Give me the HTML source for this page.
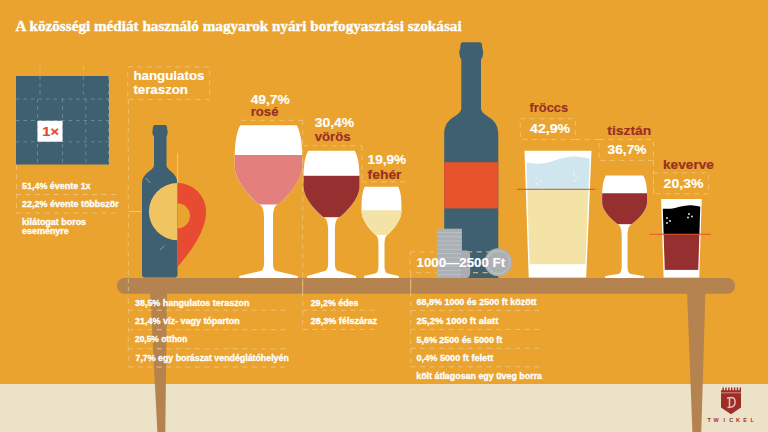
<!DOCTYPE html><html><head><meta charset="utf-8"><style>html,body{margin:0;padding:0;width:768px;height:432px;overflow:hidden;background:#E9A32E}svg{display:block}</style></head><body><svg width="768" height="432" viewBox="0 0 768 432"><rect width="768" height="432" fill="#E9A32E"/><rect y="384" width="768" height="48" fill="#ECE2C7"/><text x="15.6" y="30.5" font-family="Liberation Serif" font-weight="bold" font-size="15" fill="#fff" stroke="#fff" stroke-width="0.35" textLength="446" lengthAdjust="spacingAndGlyphs">A közösségi médiát használó magyarok nyári borfogyasztási szokásai</text><rect x="16" y="76" width="93" height="88.5" fill="#3F6071"/><line x1="16" y1="99" x2="109" y2="99" stroke="#6A8896" stroke-width="1" stroke-dasharray="3.5 4" fill="none"/><line x1="16" y1="120.5" x2="109" y2="120.5" stroke="#6A8896" stroke-width="1" stroke-dasharray="3.5 4" fill="none"/><line x1="16" y1="141.8" x2="109" y2="141.8" stroke="#6A8896" stroke-width="1" stroke-dasharray="3.5 4" fill="none"/><line x1="40" y1="76" x2="40" y2="99" stroke="#6A8896" stroke-width="1" stroke-dasharray="3.5 4" fill="none"/><line x1="83.3" y1="76" x2="83.3" y2="99" stroke="#6A8896" stroke-width="1" stroke-dasharray="3.5 4" fill="none"/><line x1="37.5" y1="99" x2="37.5" y2="164.5" stroke="#6A8896" stroke-width="1" stroke-dasharray="3.5 4" fill="none"/><line x1="62.5" y1="99" x2="62.5" y2="164.5" stroke="#6A8896" stroke-width="1" stroke-dasharray="3.5 4" fill="none"/><line x1="85.8" y1="99" x2="85.8" y2="164.5" stroke="#6A8896" stroke-width="1" stroke-dasharray="3.5 4" fill="none"/><line x1="108.5" y1="76" x2="108.5" y2="164.5" stroke="#6A8896" stroke-width="1" stroke-dasharray="3.5 4" fill="none"/><rect x="37.5" y="120.8" width="25" height="20.9" fill="#fff"/><text x="42.3" y="135.8" font-family="Liberation Sans" font-weight="bold" font-size="12" fill="#E2492C" stroke="#E2492C" stroke-width="0.15" textLength="16.7" lengthAdjust="spacingAndGlyphs">1×</text><line x1="40" y1="65" x2="40" y2="71" stroke="#EDBB6A" stroke-width="0.8"/><line x1="83.3" y1="65" x2="83.3" y2="71" stroke="#EDBB6A" stroke-width="0.8"/><line x1="16.4" y1="165" x2="16.4" y2="213" stroke="#EFC173" stroke-width="1" stroke-dasharray="5 4.5" fill="none"/><line x1="16" y1="194.5" x2="118.7" y2="194.5" stroke="#EFC173" stroke-width="1" stroke-dasharray="5 4.5" fill="none"/><line x1="16" y1="213" x2="118.7" y2="213" stroke="#EFC173" stroke-width="1" stroke-dasharray="5 4.5" fill="none"/><text x="22" y="188.6" font-family="Liberation Sans" font-weight="bold" font-size="8.8" fill="#fff" stroke="#fff" stroke-width="0.3" textLength="68.6" lengthAdjust="spacingAndGlyphs">51,4% évente 1x</text><text x="22" y="207.1" font-family="Liberation Sans" font-weight="bold" font-size="8.8" fill="#fff" stroke="#fff" stroke-width="0.3" textLength="96.8" lengthAdjust="spacingAndGlyphs">22,2% évente többször</text><text x="22" y="225.3" font-family="Liberation Sans" font-weight="bold" font-size="8.8" fill="#fff" stroke="#fff" stroke-width="0.3" textLength="64.1" lengthAdjust="spacingAndGlyphs">kilátogat boros</text><text x="22" y="234" font-family="Liberation Sans" font-weight="bold" font-size="8.8" fill="#fff" stroke="#fff" stroke-width="0.3" textLength="46.8" lengthAdjust="spacingAndGlyphs">eseményre</text><rect x="127.75" y="66.9" width="81.85" height="32.5" stroke="#EFC173" stroke-width="1" stroke-dasharray="5 4.5" fill="none"/><text x="133.4" y="79.75" font-family="Liberation Sans" font-weight="bold" font-size="13" fill="#fff" stroke="#fff" stroke-width="0.15" textLength="71.1" lengthAdjust="spacingAndGlyphs">hangulatos</text><text x="133.4" y="94" font-family="Liberation Sans" font-weight="bold" font-size="13" fill="#fff" stroke="#fff" stroke-width="0.15" textLength="54.6" lengthAdjust="spacingAndGlyphs">teraszon</text><line x1="128.3" y1="99.4" x2="128.3" y2="367" stroke="#EFC173" stroke-width="1" stroke-dasharray="5 4.5" fill="none"/><path d="M150,290 L167,290 L165.3,432 L157.4,432 Z" fill="#B5834F"/><path d="M687,290 L705.5,290 L701.25,432 L692.4,432 Z" fill="#B5834F"/><path d="M155,125 L165,125 Q166.8,125 167,127 L167.2,129.5 Q167.8,131 167.6,133 Q167.4,135.5 166.5,136 L154,136 Q152.6,135.5 152.4,133 Q152.2,131 152.8,129.5 L153,127 Q153.2,125 155,125 Z" fill="#3F6071"/><path d="M154,132 L166.5,132 L166.5,165 C166.5,171 177.5,172 177.5,184 L177.5,274.5 Q177.5,277.5 174.5,277.5 L145,277.5 Q142,277.5 142,274.5 L142,184 C142,172 154,171 154,165 Z" fill="#3F6071"/><line x1="145.5" y1="178" x2="150.5" y2="183" stroke="#8FA9B3" stroke-width="0.9"/><line x1="160" y1="250" x2="164.5" y2="245.5" stroke="#8FA9B3" stroke-width="0.9"/><line x1="128.5" y1="211.5" x2="141" y2="211.5" stroke="#F2C87F" stroke-width="1"/><path d="M177.5,183 A28.6,28.6 0 0 0 177.5,240.2 Z" fill="#F1C462"/><path d="M177.5,183 A28.6,28.6 0 0 1 206.1,211.7 C206.1,230 192,250 177.5,267 Z" fill="#E74B31"/><path d="M177.5,203.3 A12.5,12.5 0 0 1 177.5,228.3 Z" fill="#E9A32E"/><line x1="177.6" y1="153" x2="177.6" y2="183" stroke="#F2C87F" stroke-width="1"/><path d="M463,42.3 L479.5,42.3 Q481.8,42.3 482,45 L482.3,48.5 Q483.3,50 483.2,53 Q483,57 481,59.5 L461.3,59.5 Q459.5,57 459.3,53 Q459.2,50 460.2,48.5 L460.5,45 Q460.7,42.3 463,42.3 Z" fill="#3F6071"/><path d="M461.3,55 L481,55 L481,108 C481,117 498.3,116 498.3,134 L498.3,278 L444.2,278 L444.2,134 C444.2,116 461.3,117 461.3,108 Z" fill="#3F6071"/><rect x="444.2" y="162.2" width="54.1" height="46.2" fill="#E8522A"/><rect x="410.2" y="251.9" width="94.80000000000001" height="20.799999999999983" stroke="#EFC173" stroke-width="1" stroke-dasharray="5 4.5" fill="none"/><rect x="436.9" y="228.7" width="25" height="49.3" fill="#AAB0B5"/><line x1="436.9" y1="232.6" x2="461.9" y2="232.6" stroke="#C0C4C8" stroke-width="0.8"/><line x1="436.9" y1="236.8" x2="461.9" y2="236.8" stroke="#C0C4C8" stroke-width="0.8"/><line x1="436.9" y1="241.0" x2="461.9" y2="241.0" stroke="#C0C4C8" stroke-width="0.8"/><line x1="436.9" y1="245.2" x2="461.9" y2="245.2" stroke="#C0C4C8" stroke-width="0.8"/><line x1="436.9" y1="249.4" x2="461.9" y2="249.4" stroke="#C0C4C8" stroke-width="0.8"/><line x1="436.9" y1="253.6" x2="461.9" y2="253.6" stroke="#C0C4C8" stroke-width="0.8"/><line x1="436.9" y1="257.8" x2="461.9" y2="257.8" stroke="#C0C4C8" stroke-width="0.8"/><line x1="436.9" y1="262.0" x2="461.9" y2="262.0" stroke="#C0C4C8" stroke-width="0.8"/><line x1="436.9" y1="266.2" x2="461.9" y2="266.2" stroke="#C0C4C8" stroke-width="0.8"/><line x1="436.9" y1="270.4" x2="461.9" y2="270.4" stroke="#C0C4C8" stroke-width="0.8"/><line x1="436.9" y1="274.6" x2="461.9" y2="274.6" stroke="#C0C4C8" stroke-width="0.8"/><line x1="436.9" y1="278.8" x2="461.9" y2="278.8" stroke="#C0C4C8" stroke-width="0.8"/><path d="M462,250.5 L466,250.5 Q470.2,250.5 470.2,256 L470.2,272 Q470.2,278 466,278 L462,278 Z" fill="#A9ADB1"/><circle cx="498.4" cy="262.3" r="14" fill="#ADB0B3"/><circle cx="498.4" cy="262.3" r="11.5" fill="none" stroke="#C3C5C6" stroke-width="1"/><text x="416.6" y="267.1" font-family="Liberation Sans" font-weight="bold" font-size="13" fill="#fff" stroke="#fff" stroke-width="0.15" textLength="88.5" lengthAdjust="spacingAndGlyphs">1000—2500 Ft</text><path d="M240.2,125.2 L296.8,125.2 C301.75,135.4 302.3,145.6 302.3,166 C302.3,185 278.0,204.5 278.0,204.5 C274.25,205.5 273.0,210.8 273.0,218.5 L273.0,263.5 C273.0,268 274.5,271 276.5,271 L297.7,276 L297.7,278 L239.3,278 L239.3,276 L260.5,271 C262.5,271 264.0,268 264.0,263.5 L264.0,218.5 C264.0,210.8 262.75,205.5 259.0,204.5 C259.0,204.5 234.7,185 234.7,166 C234.7,145.6 235.25,135.4 240.2,125.2 Z" fill="#fff"/><clipPath id="c1"><path d="M240.2,125.2 L296.8,125.2 C301.75,135.4 302.3,145.6 302.3,166 C302.3,185 278.0,204.5 278.0,204.5 L259.0,204.5 C259.0,204.5 234.7,185 234.7,166 C234.7,145.6 235.25,135.4 240.2,125.2 Z"/></clipPath><rect x="232.7" y="155" width="71.6" height="50.0" fill="#E3807D" clip-path="url(#c1)"/><path d="M308.15,150.8 L354.85,150.8 C359.125,159.60000000000002 359.6,168.4 359.6,186 C359.6,201.65 339.5,217.3 339.5,217.3 C336.04999999999995,218.3 334.9,223.60000000000002 334.9,231.3 L334.9,263.5 C334.9,268 336.4,271 338.4,271 L356.0,276 L356.0,278 L307.0,278 L307.0,276 L324.6,271 C326.6,271 328.1,268 328.1,263.5 L328.1,231.3 C328.1,223.60000000000002 326.95000000000005,218.3 323.5,217.3 C323.5,217.3 303.4,201.65 303.4,186 C303.4,168.4 303.875,159.60000000000002 308.15,150.8 Z" fill="#fff"/><clipPath id="c2"><path d="M308.15,150.8 L354.85,150.8 C359.125,159.60000000000002 359.6,168.4 359.6,186 C359.6,201.65 339.5,217.3 339.5,217.3 L323.5,217.3 C323.5,217.3 303.4,201.65 303.4,186 C303.4,168.4 303.875,159.60000000000002 308.15,150.8 Z"/></clipPath><rect x="301.4" y="175.8" width="60.2" height="42.0" fill="#963030" clip-path="url(#c2)"/><path d="M364.75,186.7 L398.25,186.7 C401.13,192.77499999999998 401.45,198.85 401.45,211 C401.45,222.95 387.5,234.9 387.5,234.9 C385.25,235.9 384.5,239.85 384.5,245.9 L384.5,266.0 C384.5,270.5 386.0,273.5 388.0,273.5 L398.85,276 L398.85,278 L364.15,278 L364.15,276 L375.0,273.5 C377.0,273.5 378.5,270.5 378.5,266.0 L378.5,245.9 C378.5,239.85 377.75,235.9 375.5,234.9 C375.5,234.9 361.55,222.95 361.55,211 C361.55,198.85 361.87,192.77499999999998 364.75,186.7 Z" fill="#fff"/><clipPath id="c3"><path d="M364.75,186.7 L398.25,186.7 C401.13,192.77499999999998 401.45,198.85 401.45,211 C401.45,222.95 387.5,234.9 387.5,234.9 L375.5,234.9 C375.5,234.9 361.55,222.95 361.55,211 C361.55,198.85 361.87,192.77499999999998 364.75,186.7 Z"/></clipPath><rect x="359.55" y="210.3" width="43.9" height="25.099999999999994" fill="#F3E3A6" clip-path="url(#c3)"/><path d="M605.85,175.4 L643.35,175.4 C646.725,182.05 647.1,188.7 647.1,202 C647.1,213.1 631.6,224.2 631.6,224.2 C628.525,225.2 627.5,230.04999999999998 627.5,237.2 L627.5,266.5 C627.5,271 629.0,274 631.0,274 L643.95,276 L643.95,278 L605.25,278 L605.25,276 L618.2,274 C620.2,274 621.7,271 621.7,266.5 L621.7,237.2 C621.7,230.04999999999998 620.6750000000001,225.2 617.6,224.2 C617.6,224.2 602.1,213.1 602.1,202 C602.1,188.7 602.475,182.05 605.85,175.4 Z" fill="#fff"/><clipPath id="c4"><path d="M605.85,175.4 L643.35,175.4 C646.725,182.05 647.1,188.7 647.1,202 C647.1,213.1 631.6,224.2 631.6,224.2 L617.6,224.2 C617.6,224.2 602.1,213.1 602.1,202 C602.1,188.7 602.475,182.05 605.85,175.4 Z"/></clipPath><rect x="600.1" y="193.25" width="49.0" height="31.44999999999999" fill="#963030" clip-path="url(#c4)"/><path d="M524.5,150.7 L591.5,150.7 L586.2,277.5 L528.7,277.5 Z" fill="#fff"/><clipPath id="fg"><path d="M526,150.7 L590,150.7 L585,277.5 L530,277.5 Z"/></clipPath><g clip-path="url(#fg)"><path d="M520,161.5 C530,163.5 540,165 550,162 C560,158 570,156 577,156.5 C584,157 590,159 595,160 L595,190 L520,190 Z" fill="#D0E6EE"/><rect x="520" y="189" width="80" height="75.2" fill="#F3E3A6"/></g><circle cx="536" cy="178.5" r="1" fill="#E6F2F6"/><circle cx="541" cy="181" r="1" fill="#E6F2F6"/><circle cx="537" cy="184" r="1" fill="#E6F2F6"/><circle cx="574" cy="175" r="1" fill="#E6F2F6"/><circle cx="578" cy="177.5" r="1" fill="#E6F2F6"/><circle cx="575" cy="181" r="1" fill="#E6F2F6"/><circle cx="574.5" cy="172.5" r="1" fill="#E6F2F6"/><line x1="517" y1="189.3" x2="595.3" y2="189.3" stroke="#D9502C" stroke-width="1"/><path d="M661.1,199.1 L701.75,199.1 L699.25,277.5 L663.6,277.5 Z" fill="#fff"/><clipPath id="bg"><path d="M662.5,199.1 L700.5,199.1 L698,277.5 L665,277.5 Z"/></clipPath><g clip-path="url(#bg)"><path d="M655,208.5 C662,208.5 667,209.5 675,208 C683,206 688,205 693,205.5 C698,206 701,207 705,207.5 L705,235 L655,235 Z" fill="#000"/><rect x="655" y="234.1" width="50" height="35.8" fill="#963030"/></g><circle cx="667" cy="218" r="1" fill="#ddd"/><circle cx="670" cy="221" r="1" fill="#ddd"/><circle cx="667" cy="223" r="1" fill="#ddd"/><circle cx="689" cy="214" r="1" fill="#ddd"/><circle cx="692" cy="216.5" r="1" fill="#ddd"/><circle cx="688" cy="217.5" r="1" fill="#ddd"/><line x1="649.5" y1="234.25" x2="711" y2="234.25" stroke="#E5562B" stroke-width="1"/><rect x="117" y="278" width="618" height="15.75" rx="7.5" fill="#B5834F"/><line x1="128.3" y1="279" x2="128.3" y2="294" stroke="#D9B98A" stroke-width="1" stroke-dasharray="4 4"/><line x1="302.7" y1="279" x2="302.7" y2="294" stroke="#D9B98A" stroke-width="1" stroke-dasharray="4 4"/><line x1="410.7" y1="279" x2="410.7" y2="294" stroke="#D9B98A" stroke-width="1" stroke-dasharray="4 4"/><text x="250.7" y="103.7" font-family="Liberation Sans" font-weight="bold" font-size="13" fill="#fff" stroke="#fff" stroke-width="0.15" textLength="39.0" lengthAdjust="spacingAndGlyphs">49,7%</text><text x="250.7" y="116" font-family="Liberation Sans" font-weight="bold" font-size="13" fill="#9A2F27" stroke="#9A2F27" stroke-width="0.15" textLength="27.8" lengthAdjust="spacingAndGlyphs">rosé</text><line x1="241" y1="120.3" x2="303" y2="120.3" stroke="#EFC173" stroke-width="1" stroke-dasharray="5 4.5" fill="none"/><line x1="302.7" y1="120.3" x2="302.7" y2="330" stroke="#EFC173" stroke-width="1" stroke-dasharray="5 4.5" fill="none"/><text x="314.7" y="126.7" font-family="Liberation Sans" font-weight="bold" font-size="13" fill="#fff" stroke="#fff" stroke-width="0.15" textLength="39.5" lengthAdjust="spacingAndGlyphs">30,4%</text><text x="314.7" y="140.5" font-family="Liberation Sans" font-weight="bold" font-size="13" fill="#9A2F27" stroke="#9A2F27" stroke-width="0.15" textLength="35.8" lengthAdjust="spacingAndGlyphs">vörös</text><line x1="303" y1="145.8" x2="362" y2="145.8" stroke="#EFC173" stroke-width="1" stroke-dasharray="5 4.5" fill="none"/><line x1="362" y1="145.8" x2="362" y2="182" stroke="#EFC173" stroke-width="1" stroke-dasharray="5 4.5" fill="none"/><text x="367.6" y="164" font-family="Liberation Sans" font-weight="bold" font-size="13" fill="#fff" stroke="#fff" stroke-width="0.15" textLength="38.5" lengthAdjust="spacingAndGlyphs">19,9%</text><text x="367.6" y="178.75" font-family="Liberation Sans" font-weight="bold" font-size="13" fill="#9A2F27" stroke="#9A2F27" stroke-width="0.15" textLength="33.9" lengthAdjust="spacingAndGlyphs">fehér</text><line x1="362" y1="181.9" x2="408" y2="181.9" stroke="#EFC173" stroke-width="1" stroke-dasharray="5 4.5" fill="none"/><text x="529.5" y="112" font-family="Liberation Sans" font-weight="bold" font-size="13" fill="#9A2F27" stroke="#9A2F27" stroke-width="0.15" textLength="38.7" lengthAdjust="spacingAndGlyphs">fröccs</text><text x="530" y="133" font-family="Liberation Sans" font-weight="bold" font-size="13" fill="#fff" stroke="#fff" stroke-width="0.15" textLength="40.2" lengthAdjust="spacingAndGlyphs">42,9%</text><rect x="520.3" y="118.7" width="55.0" height="20.799999999999997" stroke="#EFC173" stroke-width="1" stroke-dasharray="5 4.5" fill="none"/><line x1="575.3" y1="139.5" x2="599.5" y2="139.5" stroke="#EFC173" stroke-width="1" stroke-dasharray="5 4.5" fill="none"/><text x="607.25" y="134.75" font-family="Liberation Sans" font-weight="bold" font-size="13" fill="#9A2F27" stroke="#9A2F27" stroke-width="0.15" textLength="44.0" lengthAdjust="spacingAndGlyphs">tisztán</text><text x="607.6" y="153.5" font-family="Liberation Sans" font-weight="bold" font-size="13" fill="#fff" stroke="#fff" stroke-width="0.15" textLength="38.9" lengthAdjust="spacingAndGlyphs">36,7%</text><rect x="599" y="139.5" width="54.5" height="20.900000000000006" stroke="#EFC173" stroke-width="1" stroke-dasharray="5 4.5" fill="none"/><line x1="653.5" y1="160.4" x2="653.5" y2="193.75" stroke="#EFC173" stroke-width="1" stroke-dasharray="5 4.5" fill="none"/><text x="663" y="168.75" font-family="Liberation Sans" font-weight="bold" font-size="13" fill="#9A2F27" stroke="#9A2F27" stroke-width="0.15" textLength="50.9" lengthAdjust="spacingAndGlyphs">keverve</text><text x="663.6" y="187.5" font-family="Liberation Sans" font-weight="bold" font-size="13" fill="#fff" stroke="#fff" stroke-width="0.15" textLength="39.9" lengthAdjust="spacingAndGlyphs">20,3%</text><rect x="653.6" y="172.9" width="55.0" height="20.849999999999994" stroke="#EFC173" stroke-width="1" stroke-dasharray="5 4.5" fill="none"/><line x1="128.3" y1="310.2" x2="288" y2="310.2" stroke="#EFC173" stroke-width="1" stroke-dasharray="5 4.5" fill="none"/><line x1="128.3" y1="329.7" x2="288" y2="329.7" stroke="#EFC173" stroke-width="1" stroke-dasharray="5 4.5" fill="none"/><line x1="128.3" y1="348.8" x2="288" y2="348.8" stroke="#EFC173" stroke-width="1" stroke-dasharray="5 4.5" fill="none"/><line x1="128.3" y1="367" x2="288" y2="367" stroke="#EFC173" stroke-width="1" stroke-dasharray="5 4.5" fill="none"/><text x="135" y="305.5" font-family="Liberation Sans" font-weight="bold" font-size="8.8" fill="#fff" stroke="#fff" stroke-width="0.3" textLength="114.5" lengthAdjust="spacingAndGlyphs">38,5% hangulatos teraszon</text><text x="135" y="323.8" font-family="Liberation Sans" font-weight="bold" font-size="8.8" fill="#fff" stroke="#fff" stroke-width="0.3" textLength="104.8" lengthAdjust="spacingAndGlyphs">21,4% víz- vagy tóparton</text><text x="135" y="342.2" font-family="Liberation Sans" font-weight="bold" font-size="8.8" fill="#fff" stroke="#fff" stroke-width="0.3" textLength="52.3" lengthAdjust="spacingAndGlyphs">20,5% otthon</text><text x="135.5" y="360.5" font-family="Liberation Sans" font-weight="bold" font-size="8.8" fill="#fff" stroke="#fff" stroke-width="0.3" textLength="153.3" lengthAdjust="spacingAndGlyphs">7,7% egy borászat vendéglátóhelyén</text><line x1="302.7" y1="310.2" x2="377.7" y2="310.2" stroke="#EFC173" stroke-width="1" stroke-dasharray="5 4.5" fill="none"/><line x1="302.7" y1="329.5" x2="377.7" y2="329.5" stroke="#EFC173" stroke-width="1" stroke-dasharray="5 4.5" fill="none"/><text x="310.7" y="305.5" font-family="Liberation Sans" font-weight="bold" font-size="8.8" fill="#fff" stroke="#fff" stroke-width="0.3" textLength="47.8" lengthAdjust="spacingAndGlyphs">29,2% édes</text><text x="310.7" y="323.8" font-family="Liberation Sans" font-weight="bold" font-size="8.8" fill="#fff" stroke="#fff" stroke-width="0.3" textLength="66.39999999999999" lengthAdjust="spacingAndGlyphs">28,3% félszáraz</text><line x1="410.7" y1="272.7" x2="410.7" y2="367" stroke="#EFC173" stroke-width="1" stroke-dasharray="5 4.5" fill="none"/><line x1="410.7" y1="310.4" x2="543" y2="310.4" stroke="#EFC173" stroke-width="1" stroke-dasharray="5 4.5" fill="none"/><line x1="410.7" y1="329.4" x2="543" y2="329.4" stroke="#EFC173" stroke-width="1" stroke-dasharray="5 4.5" fill="none"/><line x1="410.7" y1="348.3" x2="543" y2="348.3" stroke="#EFC173" stroke-width="1" stroke-dasharray="5 4.5" fill="none"/><line x1="410.7" y1="366.8" x2="543" y2="366.8" stroke="#EFC173" stroke-width="1" stroke-dasharray="5 4.5" fill="none"/><text x="416.5" y="305" font-family="Liberation Sans" font-weight="bold" font-size="8.8" fill="#fff" stroke="#fff" stroke-width="0.3" textLength="120.1" lengthAdjust="spacingAndGlyphs">68,8% 1000 és 2500 ft között</text><text x="416.5" y="324" font-family="Liberation Sans" font-weight="bold" font-size="8.8" fill="#fff" stroke="#fff" stroke-width="0.3" textLength="81.8" lengthAdjust="spacingAndGlyphs">25,2% 1000 ft alatt</text><text x="416.5" y="342.5" font-family="Liberation Sans" font-weight="bold" font-size="8.8" fill="#fff" stroke="#fff" stroke-width="0.3" textLength="85.8" lengthAdjust="spacingAndGlyphs">5,6% 2500 és 5000 ft</text><text x="416.5" y="361" font-family="Liberation Sans" font-weight="bold" font-size="8.8" fill="#fff" stroke="#fff" stroke-width="0.3" textLength="76.8" lengthAdjust="spacingAndGlyphs">0,4% 5000 ft felett</text><text x="416.25" y="378.5" font-family="Liberation Sans" font-weight="bold" font-size="8.8" fill="#fff" stroke="#fff" stroke-width="0.3" textLength="125.8" lengthAdjust="spacingAndGlyphs">költ átlagosan egy üveg borra</text><path d="M721,387.5 L721.00,387.5 L721.00,390.3 L722.43,390.3 L722.43,387.5 L723.86,387.5 L723.86,390.3 L725.29,390.3 L725.29,387.5 L726.72,387.5 L726.72,390.3 L728.15,390.3 L728.15,387.5 L729.58,387.5 L729.58,390.3 L731.01,390.3 L731.01,387.5 L732.44,387.5 L732.44,390.3 L733.87,390.3 L733.87,387.5 L735.30,387.5 L735.30,390.3 L736.73,390.3 L736.73,387.5 L738.16,387.5 L738.16,390.3 L739.59,390.3 L739.59,387.5 L741,387.5 L741,407.6 L731,414.3 L721,407.6 Z" fill="#9E2D27"/><line x1="721" y1="392.8" x2="741" y2="392.8" stroke="#D9A49A" stroke-width="0.8"/><path d="M727,398 L732,397.5 C736,398 736.5,406 731.5,407 L727.5,407.5 M729.5,398 L729.5,406.5" stroke="#E2BDB3" stroke-width="1.5" fill="none"/><text y="422.4" font-family="Liberation Sans" font-weight="bold" font-size="5.5" fill="#A2302A" text-anchor="middle" x="709.2 716 724.3 731.2 738 745 752.3">TWICKEL</text></svg></body></html>
